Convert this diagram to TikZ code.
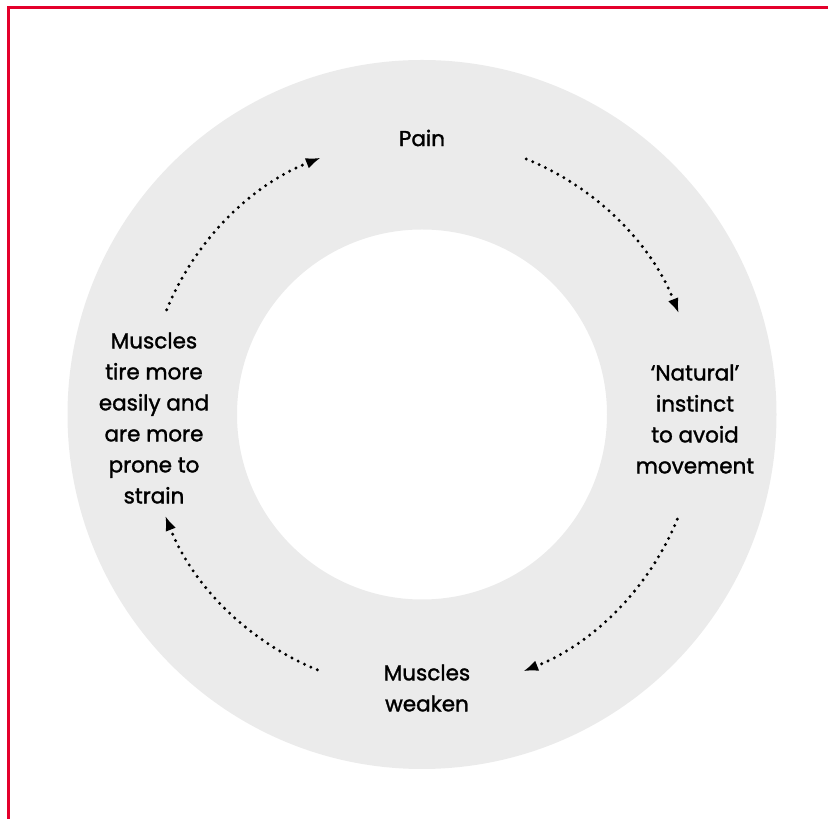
\documentclass[tikz,border=0pt]{standalone}
\usepackage{fontspec}
\setmainfont{Poppins}
\newfontfamily\policetexte[FakeBold=1.5]{Poppins}
\usetikzlibrary{arrows.meta,calc}
\definecolor{rougecadre}{HTML}{E4002B}
\definecolor{grisanneau}{HTML}{EBEBEB}
\begin{document}
\begin{tikzpicture}[x=1pt,y=1pt]
% Styles
\tikzstyle{cadre}=[rougecadre,line width=3pt]
\tikzstyle{fleche}=[-{Latex[length=15pt,width=11pt]},line width=3.3pt,line cap=round,dash pattern=on 0pt off 7pt]
\tikzstyle{texte}=[align=center,font=\policetexte\fontsize{21.5}{31}\selectfont]
% Dimensions Modifiables
\def\cx{422}
\def\cy{404.5}
\def\Rext{354.5}
\def\Rint{185}
\def\Rfl{276}
% Cadre de la page
\useasboundingbox (0,0) rectangle (828,819);
\draw[cadre] (8,0) -- (8,811) -- (828,811);
% Anneau
\fill[grisanneau,even odd rule] (\cx,\cy) circle (\Rext) (\cx,\cy) circle (\Rint);
% Textes
\node[texte] (douleur) at (\cx,681) {Pain};
\node[texte] (instinct) at (695,400) {‘Natural’\\instinct\\to avoid\\movement};
\node[texte] (faiblesse) at (427,131) {Muscles\\weaken};
\node[texte] (fatigue) at (154,401) {Muscles\\tire more\\easily and\\are more\\prone to\\strain};
% Points de départ des flèches
\coordinate (d1) at ($(\cx,\cy)+(67.8:\Rfl)$);
\coordinate (d2) at ($(\cx,\cy)+(-22.3:\Rfl)$);
\coordinate (d3) at ($(\cx,\cy)+(-112.3:\Rfl)$);
\coordinate (d4) at ($(\cx,\cy)+(157.7:\Rfl)$);
% Flèches
\draw[fleche] (d1) arc[start angle=67.8,end angle=21.5,radius=\Rfl];
\draw[fleche] (d2) arc[start angle=-22.3,end angle=-68.5,radius=\Rfl];
\draw[fleche] (d3) arc[start angle=-112.3,end angle=-158.5,radius=\Rfl];
\draw[fleche] (d4) arc[start angle=157.7,end angle=111.5,radius=\Rfl];
\end{tikzpicture}
\end{document}
